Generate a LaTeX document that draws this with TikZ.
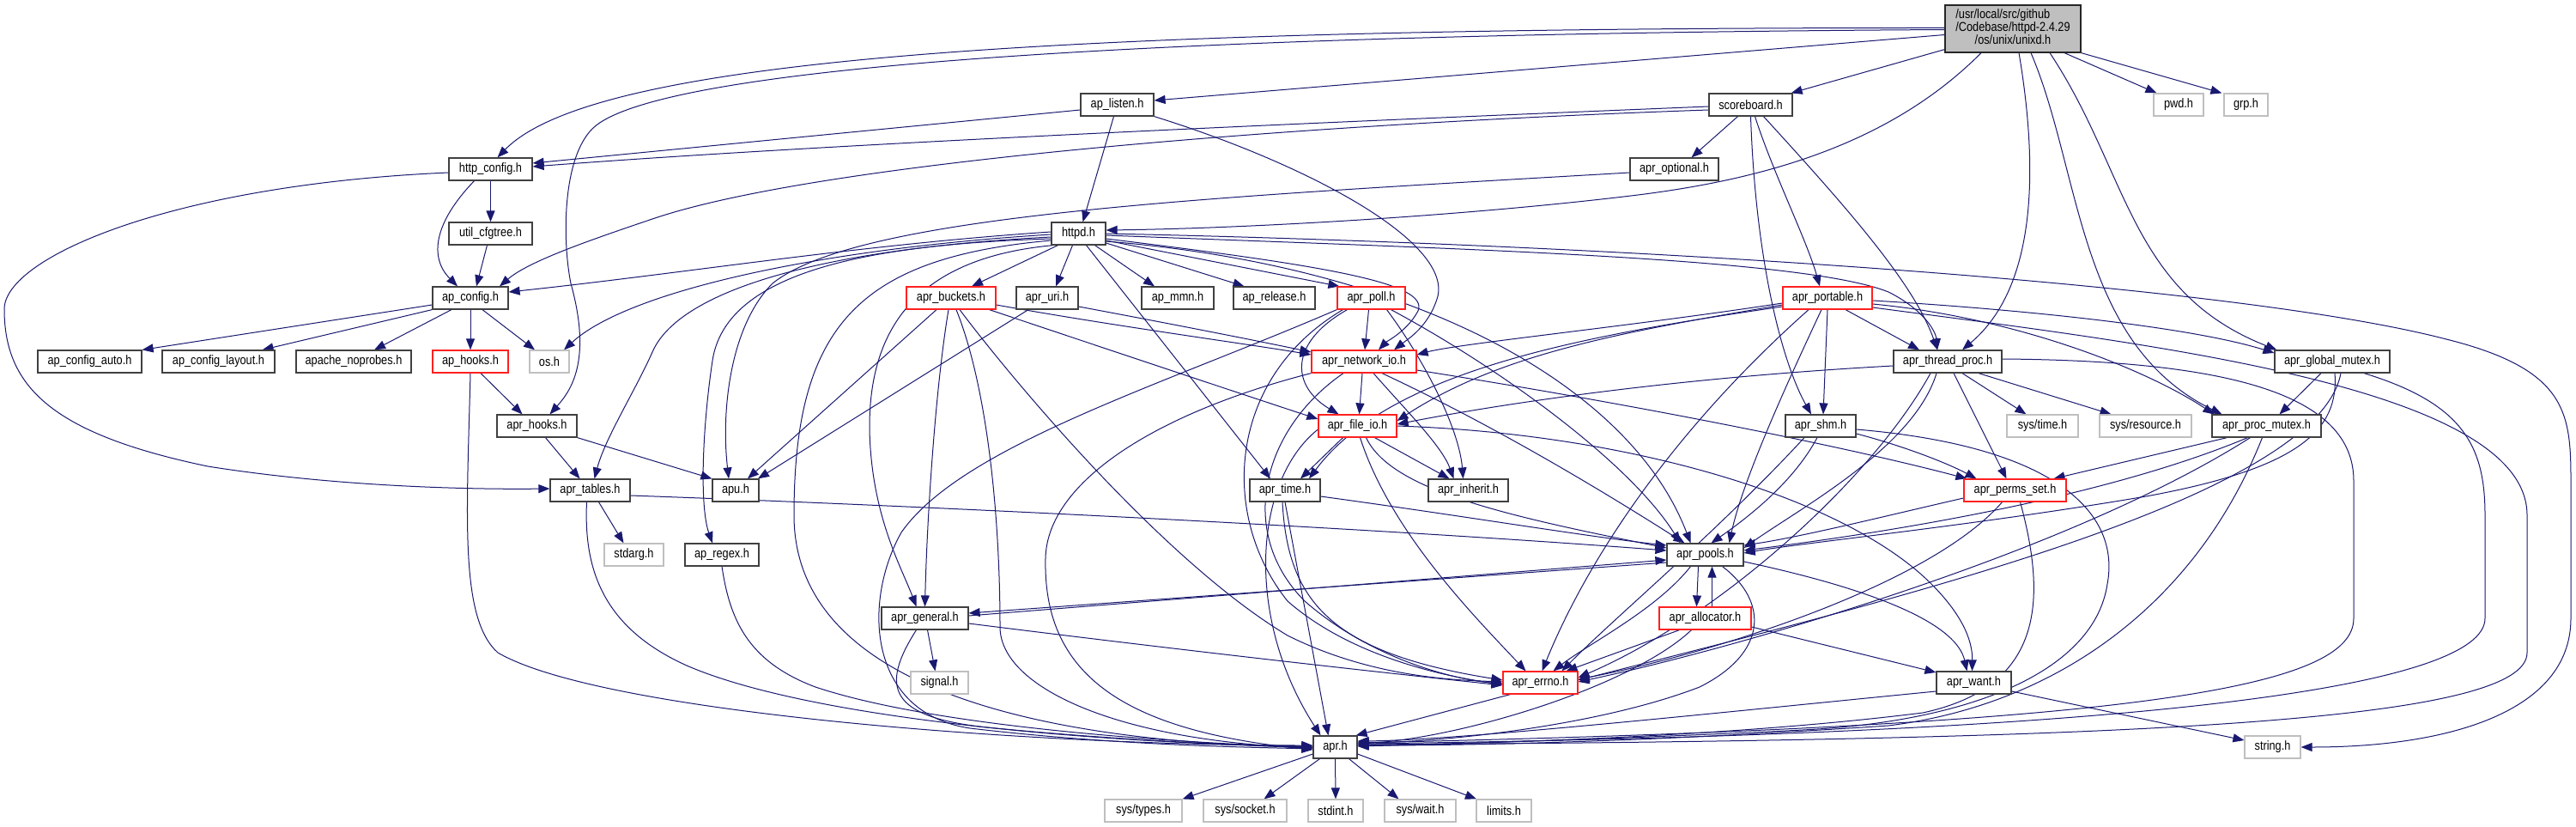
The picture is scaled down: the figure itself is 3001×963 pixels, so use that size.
\documentclass[tikz,border=0pt]{standalone}
\usepackage{fontspec}
\setmainfont{Liberation Sans}[FakeStretch=0.85]
\usetikzlibrary{arrows.meta}
\definecolor{edgec}{HTML}{191970}
\definecolor{boxc}{HTML}{404040}
\definecolor{redc}{HTML}{FF2020}
\definecolor{grayc}{HTML}{BFBFBF}
\pgfdeclarelayer{bg}
\pgfdeclarelayer{edges}
\pgfsetlayers{bg,edges,main}
\tikzset{
 box/.style={draw=boxc, line width=1.2pt, minimum height=26pt, inner sep=0pt, fill=white, font=\fontsize{15}{17}\selectfont},
 rbox/.style={box, draw=redc},
 gbox/.style={box, draw=grayc},
 e/.style={draw=edgec, line width=1pt, -{Triangle[length=13pt,width=10pt]}},
}
\begin{document}
\begin{tikzpicture}[x=1pt,y=-1pt]
\begin{pgfonlayer}{bg}
\fill[white] (0,0) rectangle (3001,963);
\end{pgfonlayer}
\useasboundingbox (0,0) rectangle (3001,963);
% row 0
\node[box, fill=grayc, draw=black!85, minimum width=158pt, minimum height=55pt, font=\fontsize{15}{14.5}\selectfont] (unixd) at (2345,33.5) {\begin{tabular}{@{}l@{}}/usr/local/src/github\\/Codebase/httpd-2.4.29\\\multicolumn{1}{@{}c@{}}{/os/unix/unixd.h}\end{tabular}};
% row 1
\node[box, minimum width=85pt] (ap_listen) at (1301.5,122) {ap\_listen.h};
\node[box, minimum width=97pt] (scoreboard) at (2039.5,122) {scoreboard.h};
\node[gbox, minimum width=58pt] (pwd) at (2538,122) {pwd.h};
\node[gbox, minimum width=51pt] (grp) at (2616.5,122) {grp.h};
% row 2
\node[box, minimum width=97pt] (http_config) at (571.5,197) {http\_config.h};
\node[box, minimum width=103pt] (apr_optional) at (1950.5,197) {apr\_optional.h};
% row 3
\node[box, minimum width=97pt] (util_cfgtree) at (571.5,272) {util\_cfgtree.h};
\node[box, minimum width=63pt] (httpd) at (1256.5,272) {httpd.h};
% row 4
\node[box, minimum width=88pt] (ap_config) at (548,347) {ap\_config.h};
\node[rbox, minimum width=104pt] (apr_buckets) at (1108,347) {apr\_buckets.h};
\node[box, minimum width=72pt] (apr_uri) at (1220,347) {apr\_uri.h};
\node[box, minimum width=84pt] (ap_mmn) at (1372,347) {ap\_mmn.h};
\node[box, minimum width=95pt] (ap_release) at (1484.5,347) {ap\_release.h};
\node[rbox, minimum width=79pt] (apr_poll) at (1597.5,347) {apr\_poll.h};
\node[rbox, minimum width=104pt] (apr_portable) at (2129,347) {apr\_portable.h};
% row 5
\node[box, minimum width=121pt] (ap_config_auto) at (104.5,421) {ap\_config\_auto.h};
\node[box, minimum width=131pt] (ap_config_layout) at (254.5,421) {ap\_config\_layout.h};
\node[box, minimum width=134pt] (apache_noprobes) at (412,421) {apache\_noprobes.h};
\node[rbox, minimum width=88pt] (ap_hooks) at (548,421) {ap\_hooks.h};
\node[gbox, minimum width=46pt] (os) at (640,421) {os.h};
\node[rbox, minimum width=122pt] (apr_network_io) at (1589,421) {apr\_network\_io.h};
\node[box, minimum width=126pt] (apr_thread_proc) at (2269,421) {apr\_thread\_proc.h};
\node[box, minimum width=134pt] (apr_global_mutex) at (2717,421) {apr\_global\_mutex.h};
% row 6
\node[box, minimum width=93pt] (apr_hooks) at (625.5,496) {apr\_hooks.h};
\node[rbox, minimum width=91pt] (apr_file_io) at (1581.5,496) {apr\_file\_io.h};
\node[box, minimum width=82pt] (apr_shm) at (2121,496) {apr\_shm.h};
\node[gbox, minimum width=83pt] (sys_time) at (2379.5,496) {sys/time.h};
\node[gbox, minimum width=107pt] (sys_resource) at (2499.5,496) {sys/resource.h};
\node[box, minimum width=127pt] (apr_proc_mutex) at (2640.5,496) {apr\_proc\_mutex.h};
% row 7
\node[box, minimum width=93pt] (apr_tables) at (687.5,571) {apr\_tables.h};
\node[box, minimum width=54pt] (apu) at (857,571) {apu.h};
\node[box, minimum width=82pt] (apr_time) at (1497,571) {apr\_time.h};
\node[box, minimum width=93pt] (apr_inherit) at (1710.5,571) {apr\_inherit.h};
\node[rbox, minimum width=119pt] (apr_perms_set) at (2347.5,571) {apr\_perms\_set.h};
% row 8
\node[gbox, minimum width=69pt] (stdarg) at (738.5,646) {stdarg.h};
\node[box, minimum width=86pt] (ap_regex) at (841,646) {ap\_regex.h};
\node[box, minimum width=89pt] (apr_pools) at (1986.5,646) {apr\_pools.h};
% row 9
\node[box, minimum width=101pt] (apr_general) at (1077.5,720) {apr\_general.h};
\node[rbox, minimum width=107pt] (apr_allocator) at (1986.5,720) {apr\_allocator.h};
% row 10
\node[gbox, minimum width=67pt] (signal) at (1094.5,795) {signal.h};
\node[rbox, minimum width=87pt] (apr_errno) at (1794.5,795) {apr\_errno.h};
\node[box, minimum width=87pt] (apr_want) at (2299.5,795) {apr\_want.h};
% row 11
\node[box, minimum width=51pt] (apr) at (1555.5,870) {apr.h};
\node[gbox, minimum width=65pt] (string) at (2647.5,870) {string.h};
% row 12
\node[gbox, minimum width=90pt] (sys_types) at (1332,944) {sys/types.h};
\node[gbox, minimum width=97pt] (sys_socket) at (1450.5,944) {sys/socket.h};
\node[gbox, minimum width=64pt] (stdint) at (1556,944) {stdint.h};
\node[gbox, minimum width=83pt] (sys_wait) at (1654.5,944) {sys/wait.h};
\node[gbox, minimum width=64pt] (limits) at (1752,944) {limits.h};

\begin{pgfonlayer}{edges}
% unixd
\draw[e] ([shift={(0,-1)}]unixd.west) .. controls (1200,32) and (690,70) .. ([shift={(8,0)}]http_config.north);
\draw[e] ([shift={(0,1)}]unixd.west) .. controls (1300,40) and (760,80) .. (690,150) .. controls (655,185) and (655,280) .. (665,330) .. controls (690,420) and (665,455) .. ([shift={(15,0)}]apr_hooks.north);
\draw[e] ([shift={(0,7)}]unixd.west) -- ([shift={(0,-5)}]ap_listen.east);
\draw[e] ([shift={(0,-4)}]unixd.south west) -- ([shift={(-2,0)}]scoreboard.north east);
\draw[e] ([shift={(-37,0)}]unixd.south) .. controls (2200,170) and (2050,210) .. (1900,228) .. controls (1700,252) and (1450,266) .. ([shift={(0,-4)}]httpd.east);
\draw[e] ([shift={(7,0)}]unixd.south) .. controls (2372,180) and (2378,330) .. ([shift={(17,0)}]apr_thread_proc.north);
\draw[e] ([shift={(21,0)}]unixd.south) .. controls (2425,200) and (2420,400) .. ([shift={(-52,0)}]apr_proc_mutex.north);
\draw[e] ([shift={(43,0)}]unixd.south) .. controls (2480,200) and (2480,340) .. ([shift={(3,0)}]apr_global_mutex.north west);
\draw[e] ([shift={(60,0)}]unixd.south) -- ([shift={(4,0)}]pwd.north west);
\draw[e] (unixd.south east) -- ([shift={(-2,0)}]grp.north west);
% ap_listen
\draw[e] ([shift={(0,6)}]ap_listen.west) -- ([shift={(0,-7)}]http_config.east);
\draw[e] ([shift={(-4,0)}]ap_listen.south) -- ([shift={(5,0)}]httpd.north);
\draw[e] (ap_listen.south east) .. controls (1520,190) and (1690,280) .. (1675,345) .. controls (1665,380) and (1640,395) .. ([shift={(35,0)}]apr_network_io.north);
% scoreboard
\draw[e] ([shift={(0,2)}]scoreboard.west) .. controls (1600,140) and (1000,165) .. ([shift={(0,-3)}]http_config.east);
\draw[e] ([shift={(0,6)}]scoreboard.west) .. controls (1500,145) and (950,190) .. (760,255) .. controls (680,282) and (615,305) .. ([shift={(34,0)}]ap_config.north);
\draw[e] ([shift={(-15,0)}]scoreboard.south) -- ([shift={(20,0)}]apr_optional.north);
\draw[e] ([shift={(5,0)}]scoreboard.south) .. controls (2065,200) and (2105,280) .. ([shift={(-9,0)}]apr_portable.north);
\draw[e] (scoreboard.south) .. controls (2045,300) and (2075,420) .. ([shift={(-11,0)}]apr_shm.north);
\draw[e] ([shift={(15,0)}]scoreboard.south) .. controls (2150,240) and (2230,330) .. ([shift={(-12,0)}]apr_thread_proc.north);
% apr_optional
\draw[e] ([shift={(0,4)}]apr_optional.west) .. controls (1400,230) and (1000,250) .. (900,330) .. controls (850,380) and (840,480) .. ([shift={(-8,0)}]apu.north);
% http_config
\draw[e] (http_config.south) -- (util_cfgtree.north);
\draw[e] ([shift={(-19,0)}]http_config.south) .. controls (505,260) and (500,300) .. ([shift={(-15,0)}]ap_config.north);
\draw[e] ([shift={(0,4)}]http_config.west) .. controls (200,215) and (5,300) .. (5,360) .. controls (5,450) and (60,505) .. (242,543) .. controls (400,568) and (560,570) .. ([shift={(0,-2)}]apr_tables.west);
\draw[e] ([shift={(-4,0)}]util_cfgtree.south) -- ([shift={(7,0)}]ap_config.north);
% ap_config
\draw[e] ([shift={(0,8)}]ap_config.west) -- (ap_config_auto.north east);
\draw[e] (ap_config.south west) -- ([shift={(-15,0)}]ap_config_layout.north east);
\draw[e] ([shift={(-22,0)}]ap_config.south) -- ([shift={(24,0)}]apache_noprobes.north);
\draw[e] (ap_config.south) -- (ap_hooks.north);
\draw[e] ([shift={(14,0)}]ap_config.south) -- ([shift={(-17,0)}]os.north);
% ap_hooks
\draw[e] ([shift={(12,0)}]ap_hooks.south) -- ([shift={(-17,0)}]apr_hooks.north);
\draw[e] (ap_hooks.south) .. controls (544,600) and (535,720) .. (580,760) .. controls (700,830) and (1200,868) .. ([shift={(0,-2)}]apr.west);
% apr_hooks
\draw[e] ([shift={(10,0)}]apr_hooks.south) -- ([shift={(-12,0)}]apr_tables.north);
\draw[e] (apr_hooks.south east) -- (apu.north west);
% apr_tables
\draw[e] ([shift={(-4,0)}]apr_tables.south) .. controls (680,660) and (700,730) .. (800,775) .. controls (950,840) and (1300,866) .. ([shift={(0,-1)}]apr.west);
\draw[e] ([shift={(10,0)}]apr_tables.south) -- ([shift={(-12,0)}]stdarg.north);
\draw[e] ([shift={(0,6)}]apr_tables.east) .. controls (1100,590) and (1600,615) .. ([shift={(0,-5)}]apr_pools.west);
% httpd
\draw[e] ([shift={(0,-2)}]httpd.west) .. controls (1000,285) and (800,318) .. ([shift={(0,-7)}]ap_config.east);
\draw[e] ([shift={(0,1)}]httpd.west) .. controls (950,290) and (730,340) .. ([shift={(17,0)}]os.north);
\draw[e] ([shift={(0,4)}]httpd.west) .. controls (950,290) and (790,340) .. (760,410) .. controls (740,455) and (705,510) .. ([shift={(5,0)}]apr_tables.north);
\draw[e] ([shift={(0,6)}]httpd.west) .. controls (1000,285) and (845,320) .. (830,420) .. controls (818,500) and (815,590) .. ([shift={(-11,0)}]ap_regex.north);
\draw[e] ([shift={(0,8)}]httpd.west) .. controls (1000,300) and (925,380) .. (925,600) .. controls (925,830) and (1300,866) .. (apr.west);
\draw[e] ([shift={(3,0)}]httpd.south west) .. controls (1070,300) and (1012,380) .. (1013,500) .. controls (1015,600) and (1050,660) .. ([shift={(-10,0)}]apr_general.north);
\draw[e] ([shift={(-24,0)}]httpd.south) -- ([shift={(24,0)}]apr_buckets.north);
\draw[e] ([shift={(-7,0)}]httpd.south) -- ([shift={(10,0)}]apr_uri.north);
\draw[e] ([shift={(9,0)}]httpd.south) -- ([shift={(-17,0)}]apr_time.north);
\draw[e] ([shift={(19,0)}]httpd.south) -- ([shift={(-27,0)}]ap_mmn.north);
\draw[e] ([shift={(0,11)}]httpd.east) -- ([shift={(-35,0)}]ap_release.north);
\draw[e] ([shift={(0,8)}]httpd.east) -- ([shift={(3,0)}]apr_poll.north west);
\draw[e] ([shift={(0,6)}]httpd.east) .. controls (1550,310) and (1665,330) .. (1652,362) .. controls (1640,385) and (1615,398) .. ([shift={(17,0)}]apr_network_io.north);
\draw[e] ([shift={(0,9)}]httpd.east) .. controls (1650,310) and (1900,450) .. ([shift={(-17,0)}]apr_pools.north);
\draw[e] ([shift={(0,2)}]httpd.east) .. controls (1700,290) and (2100,300) .. (2200,340) .. controls (2240,360) and (2255,385) .. ([shift={(-12,0)}]apr_thread_proc.north);
\draw[e] (httpd.east) .. controls (1900,285) and (2600,330) .. (2850,395) .. controls (2990,430) and (2995,480) .. (2995,560) -- (2995,720) .. controls (2995,830) and (2850,870) .. (string.east);
% apr_buckets
\draw[e] ([shift={(-17,0)}]apr_buckets.south) -- ([shift={(14,0)}]apu.north);
\draw[e] ([shift={(-3,0)}]apr_buckets.south) .. controls (1090,450) and (1080,600) .. (apr_general.north);
\draw[e] ([shift={(6,0)}]apr_buckets.south) .. controls (1150,450) and (1165,600) .. (1165,730) .. controls (1165,800) and (1300,862) .. ([shift={(0,1)}]apr.west);
\draw[e] ([shift={(10,0)}]apr_buckets.south) .. controls (1170,430) and (1350,650) .. (1500,740) .. controls (1600,790) and (1700,792) .. ([shift={(0,-1)}]apr_errno.west);
\draw[e] ([shift={(0,8)}]apr_buckets.east) .. controls (1300,380) and (1450,400) .. ([shift={(0,-8)}]apr_network_io.west);
\draw[e] ([shift={(-8,0)}]apr_buckets.south east) .. controls (1300,410) and (1450,460) .. ([shift={(0,-8)}]apr_file_io.west);
% apr_uri
\draw[e] ([shift={(-22,0)}]apr_uri.south) -- ([shift={(26,0)}]apu.north);
\draw[e] ([shift={(0,10)}]apr_uri.east) .. controls (1380,380) and (1480,400) .. ([shift={(0,-11)}]apr_network_io.west);
% apr_poll
\draw[e] ([shift={(-3,0)}]apr_poll.south) -- ([shift={(1,0)}]apr_network_io.north);
\draw[e] ([shift={(-28,0)}]apr_poll.south) .. controls (1500,400) and (1505,450) .. ([shift={(-22,0)}]apr_file_io.north);
\draw[e] ([shift={(18,0)}]apr_poll.south) .. controls (1660,420) and (1700,500) .. ([shift={(-6,0)}]apr_inherit.north);
\draw[e] ([shift={(23,0)}]apr_poll.south) .. controls (1750,430) and (1900,540) .. ([shift={(-29,0)}]apr_pools.north);
\draw[e] ([shift={(-33,0)}]apr_poll.south) .. controls (1430,440) and (1420,600) .. (1500,700) .. controls (1580,770) and (1700,790) .. ([shift={(0,2)}]apr_errno.west);
\draw[e] (apr_poll.south west) .. controls (1350,450) and (1120,520) .. (1050,620) .. controls (1005,700) and (1010,830) .. (1130,848) .. controls (1300,868) and (1450,870) .. ([shift={(0,2)}]apr.west);
% apr_network_io
\draw[e] ([shift={(-2,0)}]apr_network_io.south) -- ([shift={(2,0)}]apr_file_io.north);
\draw[e] ([shift={(11,0)}]apr_network_io.south) .. controls (1640,480) and (1680,520) .. ([shift={(-17,0)}]apr_inherit.north);
\draw[e] ([shift={(21,0)}]apr_network_io.south) .. controls (1750,500) and (1880,580) .. ([shift={(-24,0)}]apr_pools.north);
\draw[e] ([shift={(0,10)}]apr_network_io.east) .. controls (1900,470) and (2150,520) .. ([shift={(4,0)}]apr_perms_set.north west);
\draw[e] (apr_network_io.south west) .. controls (1350,480) and (1220,560) .. (1218,650) .. controls (1215,780) and (1300,850) .. ([shift={(0,3)}]apr.west);
\draw[e] ([shift={(-24,0)}]apr_network_io.south) .. controls (1470,500) and (1440,620) .. (1520,700) .. controls (1600,770) and (1700,792) .. ([shift={(0,1)}]apr_errno.west);
% apr_file_io
\draw[e] ([shift={(-17,0)}]apr_file_io.south) -- ([shift={(18,0)}]apr_time.north);
\draw[e] ([shift={(20,0)}]apr_file_io.south) -- ([shift={(-22,0)}]apr_inherit.north);
\draw[e] ([shift={(10,0)}]apr_file_io.south) .. controls (1620,570) and (1750,600) .. ([shift={(0,-8)}]apr_pools.west);
\draw[e] ([shift={(3,0)}]apr_file_io.south) .. controls (1620,620) and (1720,720) .. ([shift={(-17,0)}]apr_errno.north);
\draw[e] (apr_file_io.east) .. controls (1900,505) and (2150,580) .. (2250,680) .. controls (2290,720) and (2298,750) .. ([shift={(-2,0)}]apr_want.north);
\draw[e] ([shift={(0,4)}]apr_file_io.west) .. controls (1460,560) and (1450,720) .. ([shift={(-17,0)}]apr.north);
% apr_time
\draw[e] (apr_time.south) -- ([shift={(-8,0)}]apr.north);
\draw[e] ([shift={(0,7)}]apr_time.east) .. controls (1700,600) and (1850,625) .. ([shift={(0,-11)}]apr_pools.west);
\draw[e] ([shift={(-3,0)}]apr_time.south) .. controls (1500,700) and (1550,760) .. ([shift={(0,-3)}]apr_errno.west);
% apr_portable
\draw[e] ([shift={(0,6)}]apr_portable.west) .. controls (1900,380) and (1700,400) .. ([shift={(0,-8)}]apr_network_io.east);
\draw[e] ([shift={(0,8)}]apr_portable.west) .. controls (1900,385) and (1750,410) .. ([shift={(0,-6)}]apr_file_io.east);
\draw[e] ([shift={(0,10)}]apr_portable.west) .. controls (1850,390) and (1620,430) .. ([shift={(28,0)}]apr_time.north);
\draw[e] (apr_portable.south) -- ([shift={(3,0)}]apr_shm.north);
\draw[e] ([shift={(21,0)}]apr_portable.south) -- ([shift={(-33,0)}]apr_thread_proc.north);
\draw[e] ([shift={(0,3)}]apr_portable.east) .. controls (2350,360) and (2550,380) .. ([shift={(0,-10)}]apr_global_mutex.west);
\draw[e] ([shift={(0,7)}]apr_portable.east) .. controls (2350,370) and (2500,430) .. ([shift={(3,0)}]apr_proc_mutex.north west);
\draw[e] ([shift={(-22,0)}]apr_portable.south) .. controls (1950,500) and (1850,650) .. ([shift={(2,0)}]apr_errno.north);
\draw[e] ([shift={(-7,0)}]apr_portable.south) .. controls (2080,450) and (2030,560) .. ([shift={(28,0)}]apr_pools.north);
\draw[e] ([shift={(0,11)}]apr_portable.east) .. controls (2500,400) and (2944,450) .. (2944,600) -- (2944,760) .. controls (2944,840) and (2500,862) .. ([shift={(0,-3)}]apr.east);
% apr_thread_proc
\draw[e] ([shift={(0,5)}]apr_thread_proc.west) .. controls (1950,440) and (1750,470) .. ([shift={(0,-2)}]apr_file_io.east);
\draw[e] ([shift={(-13,0)}]apr_thread_proc.south) .. controls (2230,520) and (2100,590) .. ([shift={(0,-8)}]apr_pools.east);
\draw[e] ([shift={(-20,0)}]apr_thread_proc.south) .. controls (2180,560) and (2000,720) .. ([shift={(0,-6)}]apr_errno.east);
\draw[e] ([shift={(7,0)}]apr_thread_proc.south) -- ([shift={(-10,0)}]apr_perms_set.north);
\draw[e] ([shift={(17,0)}]apr_thread_proc.south) -- ([shift={(-19,0)}]sys_time.north);
\draw[e] ([shift={(36,0)}]apr_thread_proc.south) -- ([shift={(-40,0)}]sys_resource.north);
\draw[e] ([shift={(0,-3)}]apr_thread_proc.east) .. controls (2600,420) and (2742,460) .. (2742,560) -- (2742,720) .. controls (2742,800) and (2500,845) .. ([shift={(0,-5)}]apr.east);
% apr_global_mutex
\draw[e] ([shift={(-13,0)}]apr_global_mutex.south) -- ([shift={(15,0)}]apr_proc_mutex.north);
\draw[e] ([shift={(3,0)}]apr_global_mutex.south) .. controls (2725,500) and (2680,545) .. (2500,578) .. controls (2300,612) and (2100,632) .. ([shift={(0,-2)}]apr_pools.east);
\draw[e] ([shift={(10,0)}]apr_global_mutex.south) .. controls (2700,580) and (2200,700) .. ([shift={(0,-3)}]apr_errno.east);
\draw[e] ([shift={(37,0)}]apr_global_mutex.south) .. controls (2870,470) and (2895,520) .. (2895,600) -- (2895,720) .. controls (2895,800) and (2500,855) .. ([shift={(0,-4)}]apr.east);
% apr_proc_mutex
\draw[e] ([shift={(-46,0)}]apr_proc_mutex.south) -- ([shift={(45,0)}]apr_perms_set.north);
\draw[e] ([shift={(-22,0)}]apr_proc_mutex.south) .. controls (2450,580) and (2200,620) .. ([shift={(0,-5)}]apr_pools.east);
\draw[e] ([shift={(-19,0)}]apr_proc_mutex.south) .. controls (2400,650) and (2000,760) .. ([shift={(0,-1)}]apr_errno.east);
\draw[e] ([shift={(-5,0)}]apr_proc_mutex.south) .. controls (2560,700) and (2400,820) .. (2200,845) .. controls (1900,865) and (1700,868) .. ([shift={(0,-2)}]apr.east);
% apr_shm
\draw[e] ([shift={(0,9)}]apr_shm.east) .. controls (2220,520) and (2270,540) .. ([shift={(-45,0)}]apr_perms_set.north);
\draw[e] ([shift={(-4,0)}]apr_shm.south) .. controls (2090,560) and (2040,600) .. ([shift={(7,0)}]apr_pools.north);
\draw[e] ([shift={(-19,0)}]apr_shm.south) .. controls (2000,620) and (1880,720) .. ([shift={(25,0)}]apr_errno.north);
\draw[e] ([shift={(0,4)}]apr_shm.east) .. controls (2400,520) and (2470,600) .. (2455,680) .. controls (2440,780) and (2300,840) .. (2100,850) .. controls (1900,860) and (1700,866) .. ([shift={(0,-1)}]apr.east);
% apr_perms_set
\draw[e] ([shift={(0,9)}]apr_perms_set.west) .. controls (2200,600) and (2100,625) .. ([shift={(0,-11)}]apr_pools.east);
\draw[e] ([shift={(-15,0)}]apr_perms_set.south) .. controls (2250,680) and (2000,760) .. ([shift={(0,-4)}]apr_errno.east);
\draw[e] ([shift={(6,0)}]apr_perms_set.south) .. controls (2385,700) and (2380,800) .. (2240,830) .. controls (2000,860) and (1700,866) .. ([shift={(0,-2)}]apr.east);
% apr_pools
\draw[e] ([shift={(-17,0)}]apr_pools.south) .. controls (1930,710) and (1850,750) .. ([shift={(15,0)}]apr_errno.north);
\draw[e] ([shift={(-8,0)}]apr_pools.south) -- ([shift={(-10,0)}]apr_allocator.north);
\draw[e] ([shift={(0,9)}]apr_pools.west) -- ([shift={(0,-6)}]apr_general.east);
\draw[e] ([shift={(0,-3)}]apr_general.east) -- ([shift={(0,6)}]apr_pools.west);
\draw[e] ([shift={(0,8)}]apr_pools.east) .. controls (2200,690) and (2280,730) .. ([shift={(-8,0)}]apr_want.north);
\draw[e] ([shift={(20,0)}]apr_pools.south) .. controls (2060,700) and (2060,760) .. (1980,800) .. controls (1850,850) and (1650,866) .. ([shift={(0,-6)}]apr.east);
% apr_allocator
\draw[e] ([shift={(8,0)}]apr_allocator.north) -- ([shift={(8,0)}]apr_pools.south);
\draw[e] ([shift={(-30,0)}]apr_allocator.south) -- ([shift={(30,0)}]apr_errno.north);
\draw[e] ([shift={(0,10)}]apr_allocator.east) -- ([shift={(0,-12)}]apr_want.west);
\draw[e] ([shift={(-16,0)}]apr_allocator.south) .. controls (1900,800) and (1700,860) .. ([shift={(0,-4)}]apr.east);
% apr_general
\draw[e] ([shift={(0,6)}]apr_general.east) .. controls (1400,760) and (1600,782) .. ([shift={(0,3)}]apr_errno.west);
\draw[e] ([shift={(3,0)}]apr_general.south) -- ([shift={(-5,0)}]signal.north);
\draw[e] ([shift={(-10,0)}]apr_general.south) .. controls (1025,800) and (1035,835) .. (1150,847) .. controls (1300,862) and (1450,868) .. ([shift={(0,1)}]apr.west);
% apr_errno, apr_want, ap_regex
\draw[e] ([shift={(-35,0)}]apr_errno.south) -- ([shift={(-2,0)}]apr.north east);
\draw[e] ([shift={(0,10)}]apr_want.west) .. controls (2000,830) and (1700,862) .. ([shift={(0,-7)}]apr.east);
\draw[e] ([shift={(0,10)}]apr_want.east) -- ([shift={(0,-8)}]string.west);
\draw[e] (ap_regex.south) .. controls (850,720) and (870,770) .. (950,800) .. controls (1100,850) and (1400,866) .. (apr.west);
% apr
\draw[e] ([shift={(0,8)}]apr.west) -- (sys_types.north east);
\draw[e] ([shift={(-18,0)}]apr.south) -- ([shift={(22,0)}]sys_socket.north);
\draw[e] (apr.south) -- (stdint.north);
\draw[e] ([shift={(16,0)}]apr.south) -- ([shift={(-25,0)}]sys_wait.north);
\draw[e] ([shift={(0,8)}]apr.east) -- ([shift={(-32,0)}]limits.north);
\end{pgfonlayer}
\end{tikzpicture}
\end{document}
